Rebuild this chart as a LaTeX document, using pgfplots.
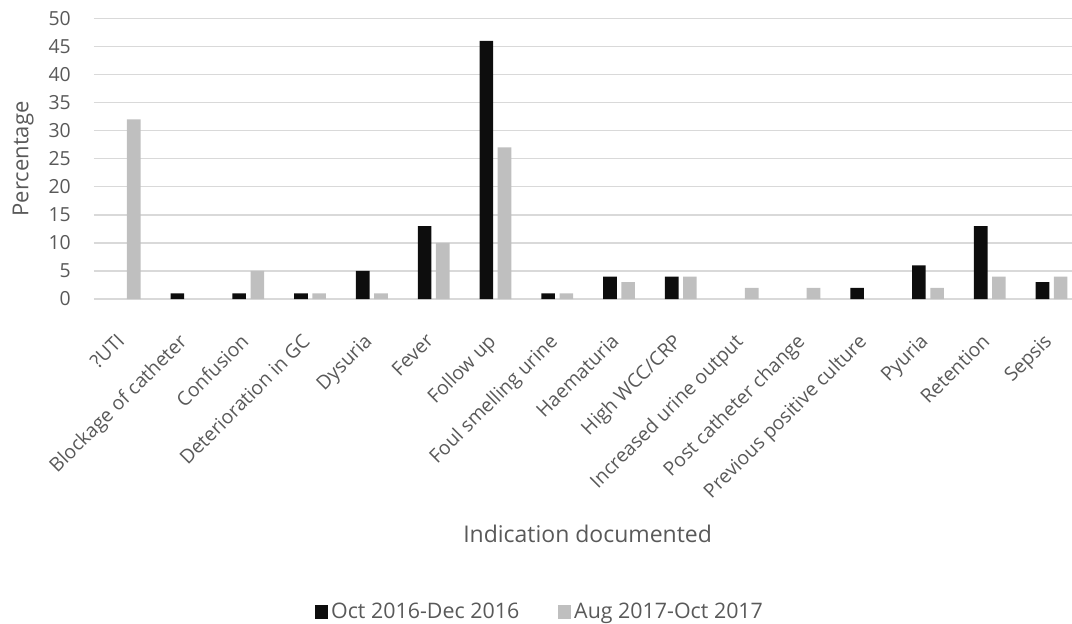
\documentclass[border=0pt]{standalone}
\usepackage{fontspec}
\setmainfont{Open Sans}
\usepackage{pgfplots}
\pgfplotsset{compat=1.18}
\definecolor{txt}{HTML}{595959}
\definecolor{gridc}{HTML}{D9D9D9}
\definecolor{sone}{HTML}{0D0D0D}
\definecolor{stwo}{HTML}{BFBFBF}
\begin{document}
\begin{tikzpicture}
\begin{axis}[
  at={(0pt,0pt)}, anchor=south west,
  scale only axis, width=489.1pt, height=140.35pt,
  xmin=-0.5, xmax=15.33, ymin=0, ymax=50,
  ytick={0,5,...,50},
  xtick={0,...,15},
  xticklabels={?UTI,Blockage of catheter,Confusion,Deterioration in GC,Dysuria,Fever,Follow up,Foul smelling urine,Haematuria,High WCC/CRP,Increased urine output,Post catheter change,Previous positive culture,Pyuria,Retention,Sepsis},
  ymajorgrids, grid style={gridc, line width=0.75pt},
  axis line style={draw=none},
  major tick length=0pt,
  ybar, bar width=0.22,
  /pgf/number format/assume math mode=true,
  tick label style={font=\fontsize{9.7}{11}\selectfont, text=txt},
  yticklabel style={anchor=east, xshift=-8pt},
  xticklabel style={xshift=-4.5pt, yshift=-16.5pt, rotate=45, anchor=north east, inner sep=0pt},
  ylabel={Percentage}, xlabel={Indication documented},
  ylabel style={font=\fontsize{11}{13}\selectfont, text=txt, at={(axis description cs:-0.067,0.499)}, anchor=base},
  xlabel style={font=\fontsize{11.5}{13}\selectfont, text=txt, at={(axis description cs:0.5048,-0.8657)}, anchor=base},
  legend style={at={(axis description cs:0.4567,-1.115)}, anchor=center, draw=none, fill=none,
    legend columns=2, font=\fontsize{10.7}{13}\selectfont, text=txt,
    nodes={inner sep=1.5pt},
    /tikz/every even column/.append style={column sep=18pt}},
]
\addplot[fill=sone, draw=none, bar shift=-0.147,
  legend image code/.code={\fill[sone] (0pt,-3.3pt) rectangle (6.5pt,3.3pt);}]
  coordinates {(1,1) (2,1) (3,1) (4,5) (5,13) (6,46) (7,1) (8,4) (9,4) (12,2) (13,6) (14,13) (15,3)};
\addplot[fill=stwo, draw=none, bar shift=0.147,
  legend image code/.code={\fill[stwo] (0pt,-3.3pt) rectangle (6.5pt,3.3pt);}]
  coordinates {(0,32) (2,5) (3,1) (4,1) (5,10) (6,27) (7,1) (8,3) (9,4) (10,2) (11,2) (13,2) (14,4) (15,4)};
\legend{Oct 2016-Dec 2016, Aug 2017-Oct 2017}
\end{axis}
\pgfresetboundingbox
\path[use as bounding box] (-46.9pt,-162pt) rectangle (489.1pt,149.5pt);
\end{tikzpicture}
\end{document}
